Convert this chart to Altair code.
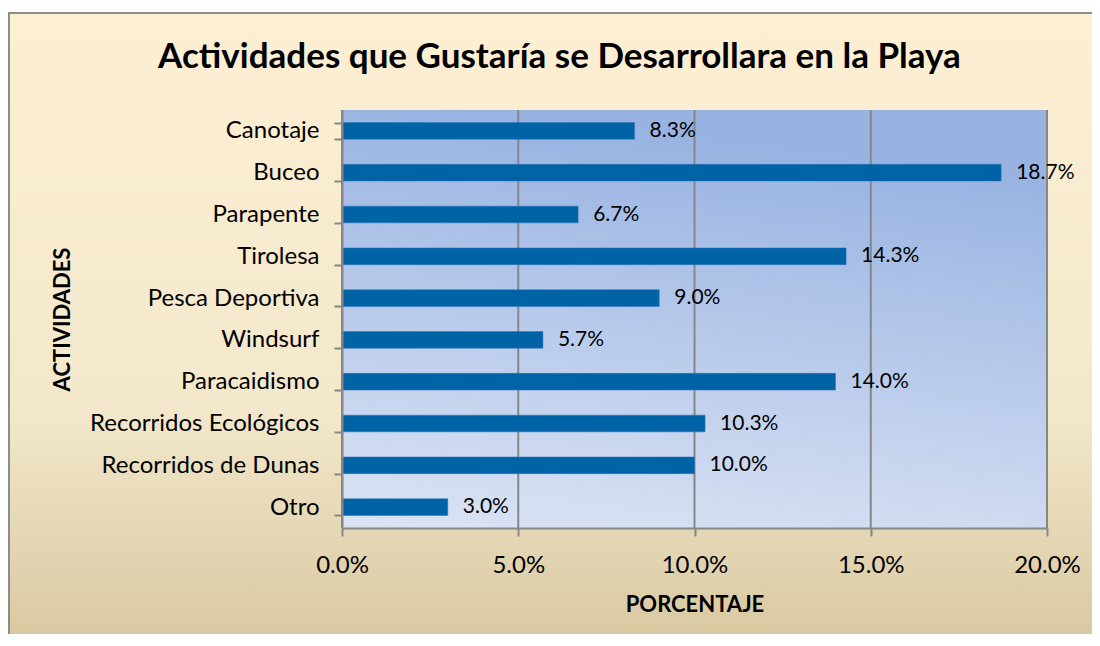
import altair as alt
import pandas as pd

actividades = ["Canotaje", "Buceo", "Parapente", "Tirolesa", "Pesca Deportiva",
               "Windsurf", "Paracaidismo", "Recorridos Ecológicos",
               "Recorridos de Dunas", "Otro "]
porcentajes = [8.3, 18.7, 6.7, 14.3, 9.0, 5.7, 14.0, 10.3, 10.0, 3.0]
x_ticks = [0, 5, 10, 15, 20]
titulo = "Actividades que Gustaría se Desarrollara en la Playa"

df = pd.DataFrame({"actividad": actividades, "pct": porcentajes})
df["label"] = [f"{v:.1f}%" for v in porcentajes]
grid_df = pd.DataFrame({"pct": x_ticks})

W, H = 705, 418
PL, PT, PR, PB = 334, 102, 45, 106
FONT = "Lato"

outer_grad = alt.LinearGradient(
    gradient="linear", x1=0, x2=0, y1=0, y2=1,
    stops=[alt.GradientStop(color="#FDEFD4", offset=0),
           alt.GradientStop(color="#F3E8CC", offset=0.6),
           alt.GradientStop(color="#D4C49B", offset=1)])
plot_grad = alt.LinearGradient(
    gradient="linear", x1=0.2, x2=0, y1=0, y2=1,
    stops=[alt.GradientStop(color="#98B3E2", offset=0),
           alt.GradientStop(color="#DCE4F4", offset=1)])

one = alt.Data(values=[{}])

outer_bg = alt.Chart(one).mark_rect(color=outer_grad).encode(
    x=alt.value(-PL + 1), x2=alt.value(W + PR + 40),
    y=alt.value(-PT + 5), y2=alt.value(H + PB + 40))

border_left = alt.Chart(one).mark_rule(color="#8C8C8C", strokeWidth=2).encode(
    x=alt.value(-PL + 1), y=alt.value(-PT + 4), y2=alt.value(H + PB + 40))
border_top = alt.Chart(one).mark_rule(color="#8C8C8C", strokeWidth=2).encode(
    x=alt.value(-PL), x2=alt.value(W + PR + 40), y=alt.value(-PT + 5))

plot_bg = alt.Chart(one).mark_rect(color=plot_grad).encode(
    x=alt.value(0), x2=alt.value(W), y=alt.value(0), y2=alt.value(H))

title_mark = alt.Chart(alt.Data(values=[{"t": titulo}])).mark_text(
    font=FONT, fontSize=35, fontWeight="bold", color="#000000",
    align="center", baseline="middle"
).encode(x=alt.value(W / 2 - 135), y=alt.value(-53), text="t:N")

xscale = alt.Scale(domain=[0, 20], nice=False, zero=True)
xaxis = alt.Axis(title="PORCENTAJE", titleFont=FONT, titleFontSize=22,
                 titleFontWeight="bold", titleColor="#000000",
                 titleX=W / 2, titleY=76, titleAlign="center",
                 titleBaseline="middle",
                 values=x_ticks,
                 labelExpr="format(datum.value, '.1f') + '%'",
                 labelFont=FONT, labelFontSize=24, labelColor="#000000",
                 labelFlush=False,
                 labelPadding=17, tickSize=8, tickColor="#868686",
                 tickWidth=2, domainColor="#868686", domainWidth=2,
                 grid=False, zindex=1)

ysort = actividades
yaxis = alt.Axis(title="ACTIVIDADES", titleFont=FONT, titleFontSize=22,
                 titleFontWeight="bold", titleColor="#000000",
                 titleAngle=-90, titleX=-280, titleY=H / 2,
                 titleAlign="center", titleBaseline="middle",
                 labelFont=FONT, labelFontSize=24, labelColor="#000000",
                 labelPadding=15, labelLimit=400, tickSize=8, tickBand="extent",
                 tickColor="#868686", tickWidth=2,
                 domainColor="#868686", domainWidth=2,
                 grid=False, zindex=1)
yscale = alt.Scale(paddingInner=0.6, paddingOuter=0.3)

grid = alt.Chart(grid_df).mark_rule(color="#868686", strokeWidth=2).encode(
    x=alt.X("pct:Q", scale=xscale, axis=xaxis),
    y=alt.value(0), y2=alt.value(H))

bars = alt.Chart(df).mark_bar(color="#0063A6", stroke="#2E75B6", strokeWidth=0.5).encode(
    y=alt.Y("actividad:N", sort=ysort, scale=yscale, axis=yaxis),
    x=alt.X("pct:Q", scale=xscale, axis=xaxis),
)

labels = alt.Chart(df).mark_text(
    align="left", baseline="middle", dx=15, font=FONT, fontSize=21, color="#000000"
).encode(
    y=alt.Y("actividad:N", sort=ysort, scale=yscale, axis=yaxis),
    x=alt.X("pct:Q", scale=xscale, axis=xaxis),
    text="label:N")

chart = alt.layer(outer_bg, border_left, border_top, plot_bg, grid, bars,
                  labels, title_mark).properties(
    width=W, height=H,
    autosize=alt.AutoSizeParams(type="none"),
    padding={"left": PL, "top": PT, "right": PR, "bottom": PB},
).configure_view(stroke=None).configure(background="#FFFFFF")

chart.save("out.html", embed_options={"renderer": "svg", "actions": False})
